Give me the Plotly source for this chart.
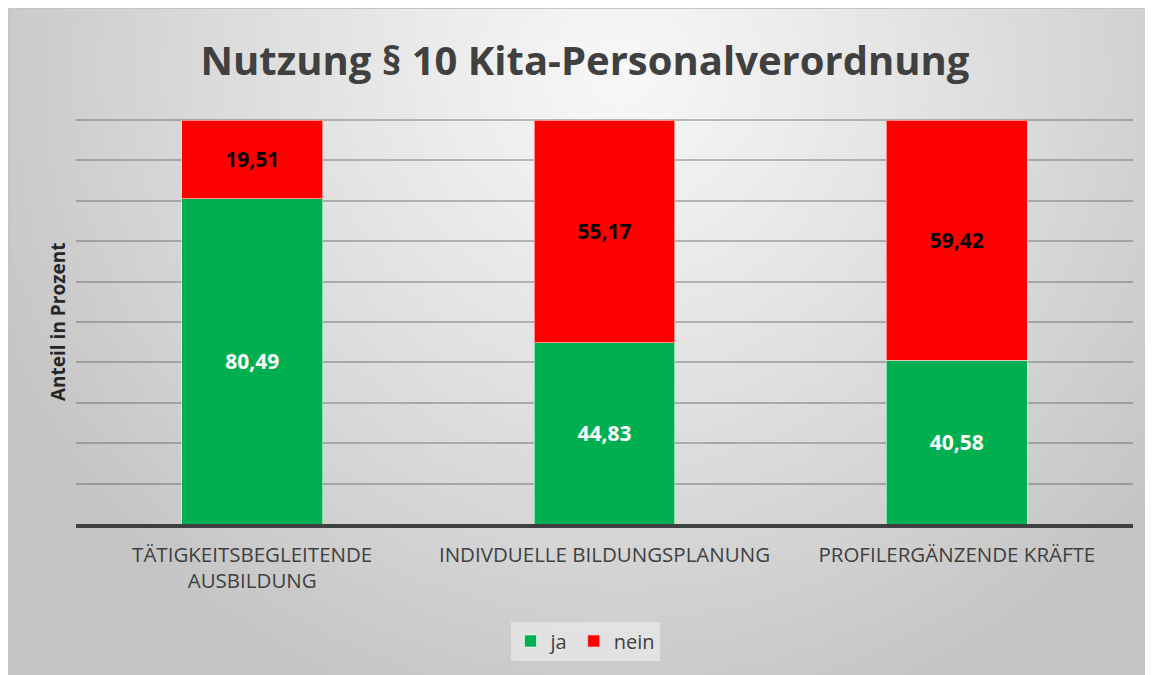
import base64, struct, zlib
import numpy as np
import plotly.graph_objects as go

categories = ["TÄTIGKEITSBEGLEITENDE<br>AUSBILDUNG", "INDIVDUELLE BILDUNGSPLANUNG", "PROFILERGÄNZENDE KRÄFTE"]
ja_values = [80.49, 44.83, 40.58]
nein_values = [19.51, 55.17, 59.42]
series_names = ["ja", "nein"]
title_text = "Nutzung § 10 Kita-Personalverordnung"
y_title = "Anteil in Prozent"

W, H = 1153, 675
L, R, T, B = 68, 28, 110, 159
pw, ph = W - L - R, H - T - B


def gradient_png(w=240, h=140):
    ys, xs = np.mgrid[0:h, 0:w]
    px = xs / (w - 1) * W
    py = ys / (h - 1) * H
    cx, cy = 612.0, 62.0
    d = np.sqrt(((px - cx) / 700.0) ** 2 + ((py - cy) / 700.0) ** 2)
    d = np.clip(d, 0, 1)
    c0, c1 = 248.0, 196.0
    v = (c0 + (c1 - c0) * d ** 1.1).astype(np.uint8)
    rgb = np.stack([v, v, v], axis=-1)
    raw = b"".join(b"\x00" + rgb[i].tobytes() for i in range(h))

    def chunk(tag, data):
        c = struct.pack(">I", len(data)) + tag + data
        return c + struct.pack(">I", zlib.crc32(tag + data) & 0xffffffff)

    png = b"\x89PNG\r\n\x1a\n" + chunk(b"IHDR", struct.pack(">IIBBBBB", w, h, 8, 2, 0, 0, 0))
    png += chunk(b"IDAT", zlib.compress(raw, 9)) + chunk(b"IEND", b"")
    return "data:image/png;base64," + base64.b64encode(png).decode()


def fmt(v):
    return f"{v:.2f}".replace(".", ",")


fig = go.Figure()
fig.add_trace(go.Bar(
    name=series_names[0], x=categories, y=ja_values,
    text=[fmt(v) for v in ja_values], textposition="inside", insidetextanchor="middle",
    textfont=dict(family="Open Sans", size=21, color="white", weight="bold"),
    marker=dict(color="#00b050", line=dict(color="rgba(255,255,255,0.55)", width=1)),
    hoverinfo="skip",
))
fig.add_trace(go.Bar(
    name=series_names[1], x=categories, y=nein_values,
    text=[fmt(v) for v in nein_values], textposition="inside", insidetextanchor="middle",
    textfont=dict(family="Open Sans", size=21, color="black", weight="bold"),
    marker=dict(color="#ff0000", line=dict(color="rgba(255,200,200,0.7)", width=1)),
    hoverinfo="skip",
))


def px2paper_x(p):
    return (p - L) / pw


def px2paper_y(p):
    return (H - B - p) / ph


fig.update_layout(
    width=W, height=H,
    margin=dict(l=L, r=R, t=T, b=B),
    barmode="stack", bargap=0.6,
    paper_bgcolor="#dcdcdc", plot_bgcolor="rgba(0,0,0,0)",
    font=dict(family="Open Sans", color="#404040"),
    title=dict(text=title_text, x=577 / W, xref="container", xanchor="center",
               y=1 - 53 / H, yref="container", yanchor="middle",
               font=dict(family="Open Sans", size=40, color="#404040", weight="bold")),
    xaxis=dict(showline=True, linecolor="#404040", linewidth=4, ticks="",
               ticklabelstandoff=9,
               tickfont=dict(family="Open Sans", size=20.5, color="#404040"),
               showgrid=False, fixedrange=True),
    yaxis=dict(range=[0, 100.5], dtick=10, showticklabels=False, showgrid=True,
               gridcolor="rgba(80,80,80,0.36)", gridwidth=1.5, zeroline=False,
               showline=False, ticks="", fixedrange=True),
    legend=dict(orientation="h", x=(577 - L) / pw, xanchor="center", y=px2paper_y(633), yanchor="middle",
                bgcolor="rgba(240,240,240,0.6)", font=dict(family="Open Sans", size=20, color="#404040"),
                itemwidth=30, traceorder="normal"),
    showlegend=True,
    images=[dict(source=gradient_png(), xref="paper", yref="paper",
                 x=px2paper_x(0), y=px2paper_y(0),
                 sizex=px2paper_x(W) - px2paper_x(0), sizey=px2paper_y(0) - px2paper_y(H),
                 xanchor="left", yanchor="top", sizing="stretch", layer="below")],
    annotations=[dict(text=y_title, textangle=-90, xref="paper", yref="paper",
                      x=px2paper_x(50), y=px2paper_y(314), xanchor="center", yanchor="middle",
                      showarrow=False,
                      font=dict(family="Open Sans", size=19, color="#262626", weight="bold"))],
    shapes=[dict(type="rect", xref="paper", yref="paper",
                 x0=px2paper_x(0.5), x1=px2paper_x(W - 0.5), y0=px2paper_y(H - 0.5), y1=px2paper_y(0.5),
                 line=dict(color="#c4c4c4", width=1), layer="below")],
)

fig.write_html("out.html")
